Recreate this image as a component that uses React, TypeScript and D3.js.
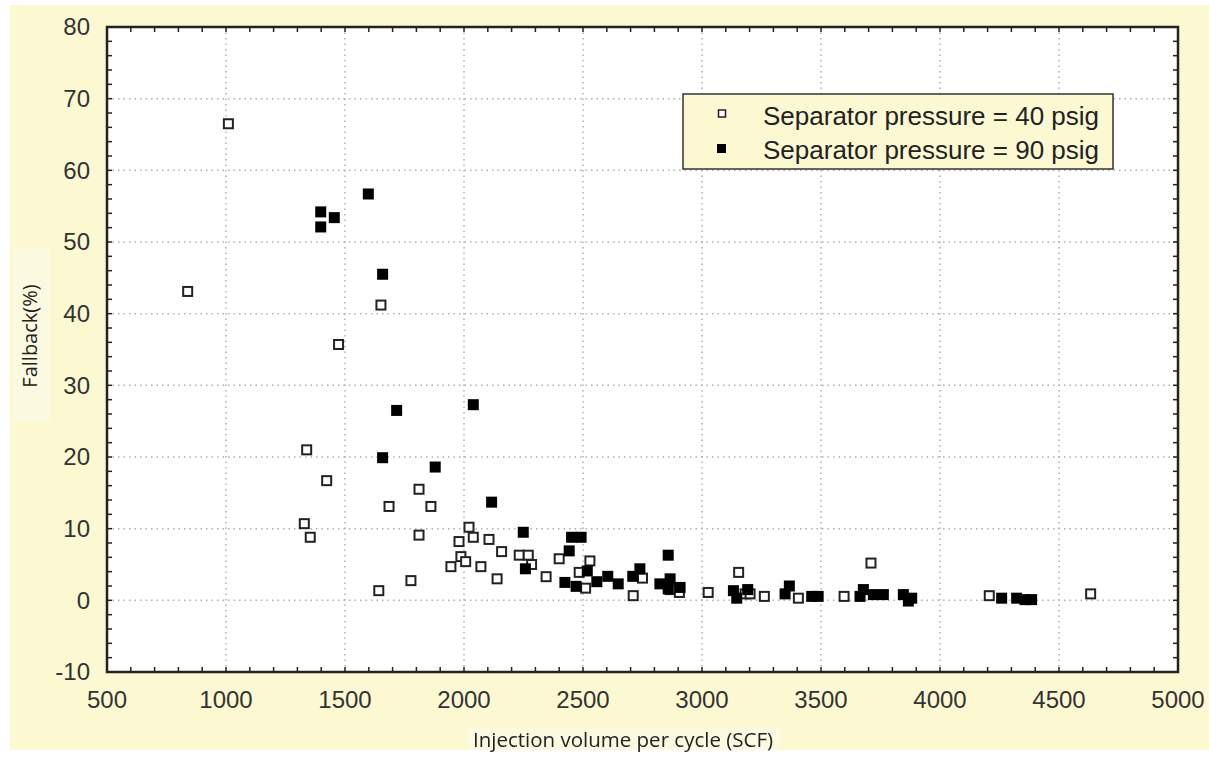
import { useEffect, useRef } from 'react';
import * as d3 from 'd3';

// Separator pressure = 40 psig (open squares)
const lowX = [839, 1010, 1329, 1339, 1354, 1423, 1473, 1642, 1651, 1685, 1777, 1811, 1811, 1861, 1945, 1979, 1987, 2007, 2021, 2039, 2071, 2105, 2139, 2158, 2232, 2270, 2284, 2345, 2400, 2484, 2511, 2529, 2711, 2750, 2866, 2905, 3026, 3154, 3181, 3202, 3262, 3405, 3597, 3710, 4207, 4633];
const lowY = [43.1, 66.5, 10.7, 21.0, 8.8, 16.7, 35.7, 1.35, 41.2, 13.1, 2.75, 15.5, 9.1, 13.1, 4.7, 8.2, 6.1, 5.4, 10.2, 8.8, 4.7, 8.5, 3.0, 6.8, 6.3, 6.3, 5.0, 3.3, 5.8, 3.9, 1.7, 5.5, 0.65, 3.1, 1.5, 1.1, 1.1, 3.9, 0.9, 0.9, 0.55, 0.3, 0.55, 5.2, 0.65, 0.9];

// Separator pressure = 90 psig (filled squares)
const highX = [1398, 1398, 1455, 1598, 1658, 1658, 1717, 1879, 2039, 2116, 2249, 2258, 2424, 2442, 2452, 2471, 2492, 2518, 2558, 2604, 2648, 2709, 2739, 2823, 2858, 2858, 2866, 2908, 3132, 3146, 3192, 3349, 3367, 3461, 3488, 3664, 3678, 3720, 3762, 3846, 3867, 3881, 4259, 4322, 4357, 4385];
const highY = [54.2, 52.1, 53.4, 56.7, 45.5, 19.9, 26.5, 18.6, 27.3, 13.7, 9.5, 4.4, 2.5, 6.9, 8.8, 1.95, 8.8, 4.1, 2.6, 3.35, 2.3, 3.35, 4.4, 2.3, 6.3, 1.6, 3.0, 1.8, 1.35, 0.3, 1.5, 0.9, 2.0, 0.55, 0.55, 0.55, 1.5, 0.8, 0.8, 0.8, -0.1, 0.3, 0.3, 0.3, 0.1, 0.1];

const xTicks = [500, 1000, 1500, 2000, 2500, 3000, 3500, 4000, 4500, 5000];
const yTicks = [-10, 0, 10, 20, 30, 40, 50, 60, 70, 80];
const seriesNames = ['Separator pressure = 40 psig', 'Separator pressure = 90 psig'];

const App = () => {
  const ref = useRef<SVGSVGElement>(null);

  useEffect(() => {
    const svg = d3.select(ref.current);
    svg.selectAll('*').remove();
    const width = 1209;
    const height = 757;
    const margin = { top: 27, right: 31, bottom: 85, left: 107 };
    const innerW = width - margin.left - margin.right;
    const innerH = height - margin.top - margin.bottom;

    const x = d3.scaleLinear().domain([500, 5000]).range([0, innerW]);
    const y = d3.scaleLinear().domain([-10, 80]).range([innerH, 0]);

    // background
    svg.append('rect').attr('x', 10).attr('y', 5).attr('width', width - 10).attr('height', 745).attr('fill', '#fcf9d2');
    svg.append('rect').attr('x', 13).attr('y', 247).attr('width', 37).attr('height', 175).attr('fill', '#fbf9e0');
    svg.append('rect').attr('x', 468).attr('y', 728).attr('width', 312).attr('height', 22).attr('fill', '#fbf9e0');

    const g = svg.append('g').attr('transform', `translate(${margin.left},${margin.top})`);
    g.append('rect').attr('width', innerW).attr('height', innerH).attr('fill', '#fff');

    // grid
    g.selectAll('.vgrid').data(xTicks.slice(1, -1)).enter().append('line')
      .attr('x1', d => x(d)).attr('x2', d => x(d)).attr('y1', 0).attr('y2', innerH)
      .attr('stroke', '#b0b0b0').attr('stroke-width', 1.5).attr('stroke-dasharray', '1.5,4');
    g.selectAll('.hgrid').data(yTicks.slice(1, -1)).enter().append('line')
      .attr('y1', d => y(d)).attr('y2', d => y(d)).attr('x1', 0).attr('x2', innerW)
      .attr('stroke', '#b0b0b0').attr('stroke-width', 1.5).attr('stroke-dasharray', '1.5,4');

    // minor ticks (inward, all four sides)
    const xMinor = d3.range(500, 5001, 100);
    const yMinor = d3.range(-10, 81, 2);
    const tl = 5;
    xMinor.forEach(v => {
      g.append('line').attr('x1', x(v)).attr('x2', x(v)).attr('y1', innerH).attr('y2', innerH - tl).attr('stroke', '#222').attr('stroke-width', 1.5);
      g.append('line').attr('x1', x(v)).attr('x2', x(v)).attr('y1', 0).attr('y2', tl).attr('stroke', '#222').attr('stroke-width', 1.5);
    });
    yMinor.forEach(v => {
      g.append('line').attr('y1', y(v)).attr('y2', y(v)).attr('x1', 0).attr('x2', tl).attr('stroke', '#222').attr('stroke-width', 1.5);
      g.append('line').attr('y1', y(v)).attr('y2', y(v)).attr('x1', innerW).attr('x2', innerW - tl).attr('stroke', '#222').attr('stroke-width', 1.5);
    });

    // frame
    g.append('rect').attr('width', innerW).attr('height', innerH).attr('fill', 'none').attr('stroke', '#222').attr('stroke-width', 2.5);

    // tick labels
    g.selectAll('.xl').data(xTicks).enter().append('text')
      .attr('x', d => x(d)).attr('y', innerH + 36)
      .attr('text-anchor', 'middle').attr('font-family', 'Liberation Sans, Arial, sans-serif')
      .attr('font-size', 24).attr('fill', '#333').text(d => d);
    g.selectAll('.yl').data(yTicks).enter().append('text')
      .attr('x', -17).attr('y', d => y(d)).attr('dy', '0.35em')
      .attr('text-anchor', 'end').attr('font-family', 'Liberation Sans, Arial, sans-serif')
      .attr('font-size', 24).attr('fill', '#333').text(d => d);

    // axis titles
    svg.append('text').attr('x', 623).attr('y', 747).attr('text-anchor', 'middle')
      .attr('font-family', 'Open Sans, sans-serif').attr('font-size', 20.5).attr('font-weight', 500)
      .attr('fill', '#222').text('Injection volume per cycle (SCF)');
    svg.append('text').attr('transform', 'translate(37,336) rotate(-90)').attr('text-anchor', 'middle')
      .attr('font-family', 'Open Sans, sans-serif').attr('font-size', 20).attr('font-weight', 500)
      .attr('fill', '#222').text('Fallback(%)');

    // points
    const low = lowX.map((v, i) => ({ x: v, y: lowY[i] }));
    const high = highX.map((v, i) => ({ x: v, y: highY[i] }));
    const s = 9;
    g.selectAll('.low').data(low).enter().append('rect')
      .attr('x', d => x(d.x) - s / 2).attr('y', d => y(d.y) - s / 2)
      .attr('width', s).attr('height', s)
      .attr('fill', '#fff').attr('stroke', '#222').attr('stroke-width', 2);
    const f = 11;
    g.selectAll('.high').data(high).enter().append('rect')
      .attr('x', d => x(d.x) - f / 2).attr('y', d => y(d.y) - f / 2)
      .attr('width', f).attr('height', f)
      .attr('fill', '#000');

    // legend
    const lg = svg.append('g');
    lg.append('rect').attr('x', 683).attr('y', 94).attr('width', 430).attr('height', 75)
      .attr('fill', '#fcf9d2').attr('stroke', '#333').attr('stroke-width', 1.5);
    lg.append('rect').attr('x', 718.5).attr('y', 110).attr('width', 7).attr('height', 7)
      .attr('fill', '#fff').attr('stroke', '#222').attr('stroke-width', 1.5);
    lg.append('rect').attr('x', 717).attr('y', 144).attr('width', 9).attr('height', 9).attr('fill', '#000');
    lg.selectAll('.lt').data(seriesNames).enter().append('text')
      .attr('x', 763).attr('y', (d, i) => 125 + i * 34)
      .attr('font-family', 'Liberation Sans, Arial, sans-serif').attr('font-size', 26)
      .attr('fill', '#222').text(d => d);
  }, []);

  return (
    <div style={{ position: 'fixed', left: 0, top: 0 }}>
      <svg ref={ref} width={1209} height={757} style={{ display: 'block' }} />
    </div>
  );
};

export default App;
